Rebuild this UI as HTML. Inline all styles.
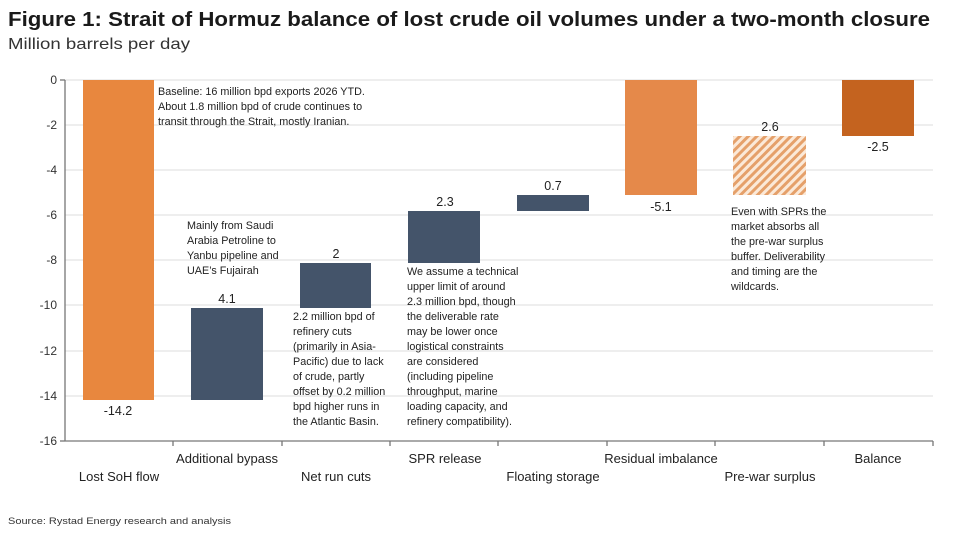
<!DOCTYPE html>
<html><head><meta charset="utf-8"><style>
body{margin:0;background:#fff;}
svg{display:block;font-family:"Liberation Sans",Arial,sans-serif;}
</style></head><body>
<svg width="963" height="533" viewBox="0 0 963 533" xmlns="http://www.w3.org/2000/svg">
<defs>
<pattern id="h" patternUnits="userSpaceOnUse" width="6" height="6" patternTransform="rotate(45)">
<rect width="6" height="6" fill="#fbe9d8"/><rect width="3" height="6" fill="#e5a06a"/>
</pattern>
</defs>
<text x="8" y="26" font-size="20" font-weight="bold" fill="#1a1a1a" textLength="922" lengthAdjust="spacingAndGlyphs">Figure 1: Strait of Hormuz balance of lost crude oil volumes under a two-month closure</text>
<text x="8" y="49" font-size="16" fill="#333" textLength="182" lengthAdjust="spacingAndGlyphs">Million barrels per day</text>
<g stroke="#dcdcdc" stroke-width="1">
<line x1="65" x2="933" y1="80" y2="80"/><line x1="65" x2="933" y1="125" y2="125"/>
<line x1="65" x2="933" y1="170" y2="170"/><line x1="65" x2="933" y1="215" y2="215"/>
<line x1="65" x2="933" y1="260" y2="260"/><line x1="65" x2="933" y1="305" y2="305"/>
<line x1="65" x2="933" y1="351" y2="351"/><line x1="65" x2="933" y1="396" y2="396"/>
</g>
<g font-size="12" fill="#333" text-anchor="end">
<text x="57" y="84">0</text><text x="57" y="129">-2</text><text x="57" y="174">-4</text>
<text x="57" y="219">-6</text><text x="57" y="264">-8</text><text x="57" y="309">-10</text>
<text x="57" y="355">-12</text><text x="57" y="400">-14</text><text x="57" y="445">-16</text>
</g>
<rect x="83" y="80" width="71" height="320" fill="#e8873e"/>
<rect x="191" y="308" width="72" height="92" fill="#44546a"/>
<rect x="300" y="263" width="71" height="45" fill="#44546a"/>
<rect x="408" y="211" width="72" height="52" fill="#44546a"/>
<rect x="517" y="195" width="72" height="16" fill="#44546a"/>
<rect x="625" y="80" width="72" height="115" fill="#e5894a"/>
<rect x="733" y="136" width="73" height="59" fill="url(#h)"/>
<rect x="842" y="80" width="72" height="56" fill="#c4631f"/>
<g stroke="#777" stroke-width="1.3">
<line x1="65" x2="65" y1="80" y2="441"/><line x1="60" x2="65" y1="80" y2="80"/>
<line x1="60" x2="65" y1="441" y2="441"/>
<line x1="65" x2="933" y1="441" y2="441"/>
<line x1="173" x2="173" y1="441" y2="446"/><line x1="282" x2="282" y1="441" y2="446"/>
<line x1="390" x2="390" y1="441" y2="446"/><line x1="498" x2="498" y1="441" y2="446"/>
<line x1="607" x2="607" y1="441" y2="446"/><line x1="715" x2="715" y1="441" y2="446"/>
<line x1="824" x2="824" y1="441" y2="446"/><line x1="933" x2="933" y1="441" y2="446"/>
</g>
<g font-size="12.5" fill="#222" text-anchor="middle">
<text x="118" y="415">-14.2</text>
<text x="227" y="303">4.1</text>
<text x="336" y="258">2</text>
<text x="445" y="206">2.3</text>
<text x="553" y="190">0.7</text>
<text x="661" y="211">-5.1</text>
<text x="770" y="131">2.6</text>
<text x="878" y="151">-2.5</text>
</g>
<g font-size="13" fill="#222" text-anchor="middle">
<text x="119" y="481">Lost SoH flow</text>
<text x="227" y="463">Additional bypass</text>
<text x="336" y="481">Net run cuts</text>
<text x="445" y="463">SPR release</text>
<text x="553" y="481">Floating storage</text>
<text x="661" y="463">Residual  imbalance</text>
<text x="770" y="481">Pre-war surplus</text>
<text x="878" y="463">Balance</text>
</g>
<g font-size="10.8" fill="#222">
<text x="158" y="95">Baseline: 16 million bpd exports 2026 YTD.</text>
<text x="158" y="110">About 1.8 million bpd of crude continues to</text>
<text x="158" y="125">transit through the Strait, mostly Iranian.</text>
<text x="187" y="229">Mainly from Saudi</text>
<text x="187" y="244">Arabia Petroline to</text>
<text x="187" y="259">Yanbu pipeline and</text>
<text x="187" y="274">UAE’s Fujairah</text>
<text x="293" y="320">2.2 million bpd of</text>
<text x="293" y="335">refinery cuts</text>
<text x="293" y="350">(primarily in Asia-</text>
<text x="293" y="365">Pacific) due to lack</text>
<text x="293" y="380">of crude, partly</text>
<text x="293" y="395">offset by 0.2 million</text>
<text x="293" y="410">bpd higher runs in</text>
<text x="293" y="425">the Atlantic Basin.</text>
<text x="407" y="275">We assume a technical</text>
<text x="407" y="290">upper limit of around</text>
<text x="407" y="305">2.3 million bpd, though</text>
<text x="407" y="320">the deliverable rate</text>
<text x="407" y="335">may be lower once</text>
<text x="407" y="350">logistical constraints</text>
<text x="407" y="365">are considered</text>
<text x="407" y="380">(including pipeline</text>
<text x="407" y="395">throughput, marine</text>
<text x="407" y="410">loading capacity, and</text>
<text x="407" y="425">refinery compatibility).</text>
<text x="731" y="215">Even with SPRs the</text>
<text x="731" y="230">market absorbs all</text>
<text x="731" y="245">the pre-war surplus</text>
<text x="731" y="260">buffer. Deliverability</text>
<text x="731" y="275">and timing are the</text>
<text x="731" y="290">wildcards.</text>
</g>
<text x="8" y="524" font-size="9.5" fill="#333" textLength="223" lengthAdjust="spacingAndGlyphs">Source: Rystad Energy research and analysis</text>
</svg>
</body></html>
